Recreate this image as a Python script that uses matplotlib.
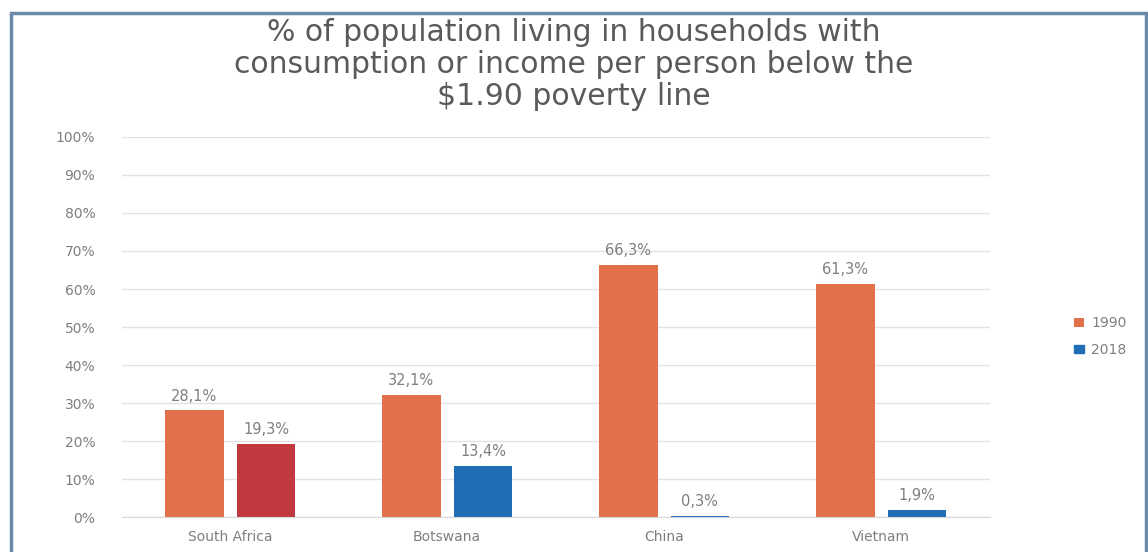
import numpy as np
import matplotlib.pyplot as plt
from matplotlib.patches import Rectangle

countries = ['South Africa', 'Botswana', 'China', 'Vietnam']
years = ['1990', '2018']
pct_1990 = [28.1, 32.1, 66.3, 61.3]
pct_2018 = [19.3, 13.4, 0.3, 1.9]

orange = '#E2704A'
blue = '#1F6DB5'
red = '#C0393F'
grey = '#7F7F7F'

plt.rcParams['font.family'] = 'DejaVu Sans'

fig = plt.figure(figsize=(11.48, 5.52), dpi=100)
ax = fig.add_axes([0.106, 0.063, 0.756, 0.689])

x = np.arange(len(countries))
w = 0.27
c2018 = [red] + [blue] * (len(countries) - 1)
b1 = ax.bar(x - w / 2 - 0.03, pct_1990, w, color=orange, label=years[0])
b2 = ax.bar(x + w / 2 + 0.03, pct_2018, w, color=c2018, label=years[1])

for bars, vals in ((b1, pct_1990), (b2, pct_2018)):
    for r, v in zip(bars, vals):
        ax.text(r.get_x() + r.get_width() / 2, v + 1.8, ('%.1f%%' % v).replace('.', ','),
                ha='center', va='bottom', fontsize=10.5, color=grey)

ax.set_ylim(0, 100)
ax.set_xlim(-0.5, 3.5)
ax.set_yticks(np.arange(0, 101, 10))
ax.set_yticklabels(['%d%%' % t for t in range(0, 101, 10)])
ax.set_xticks(x)
ax.set_xticklabels(countries)
ax.tick_params(length=0, labelsize=10, colors=grey)
ax.tick_params(axis='x', pad=9)
ax.tick_params(axis='y', pad=19)
ax.yaxis.grid(True, color='#E3E3E3', lw=1)
ax.set_axisbelow(True)
for s in ['top', 'right', 'left']:
    ax.spines[s].set_visible(False)
ax.spines['bottom'].set_color('#D9D9D9')

leg = fig.legend(handles=[b1, b2], labels=years, loc='center left',
                 bbox_to_anchor=(0.925, 0.39), frameon=False, fontsize=10,
                 handlelength=0.7, handleheight=0.6, handletextpad=0.5, labelspacing=0.9)
for t in leg.get_texts():
    t.set_color(grey)
leg.legend_handles[1].set_color(blue)

fig.text(0.5, 0.968, '% of population living in households with\n'
         'consumption or income per person below the\n$1.90 poverty line',
         ha='center', va='top', fontsize=21.5, color='#5A5A5A', linespacing=1.14)

fig.patches.append(Rectangle((0.0096, -0.05), 0.989, 1.027, transform=fig.transFigure,
                             fill=False, edgecolor='#6A8AA8', lw=2.5))

fig.savefig('out.png', dpi=100)
